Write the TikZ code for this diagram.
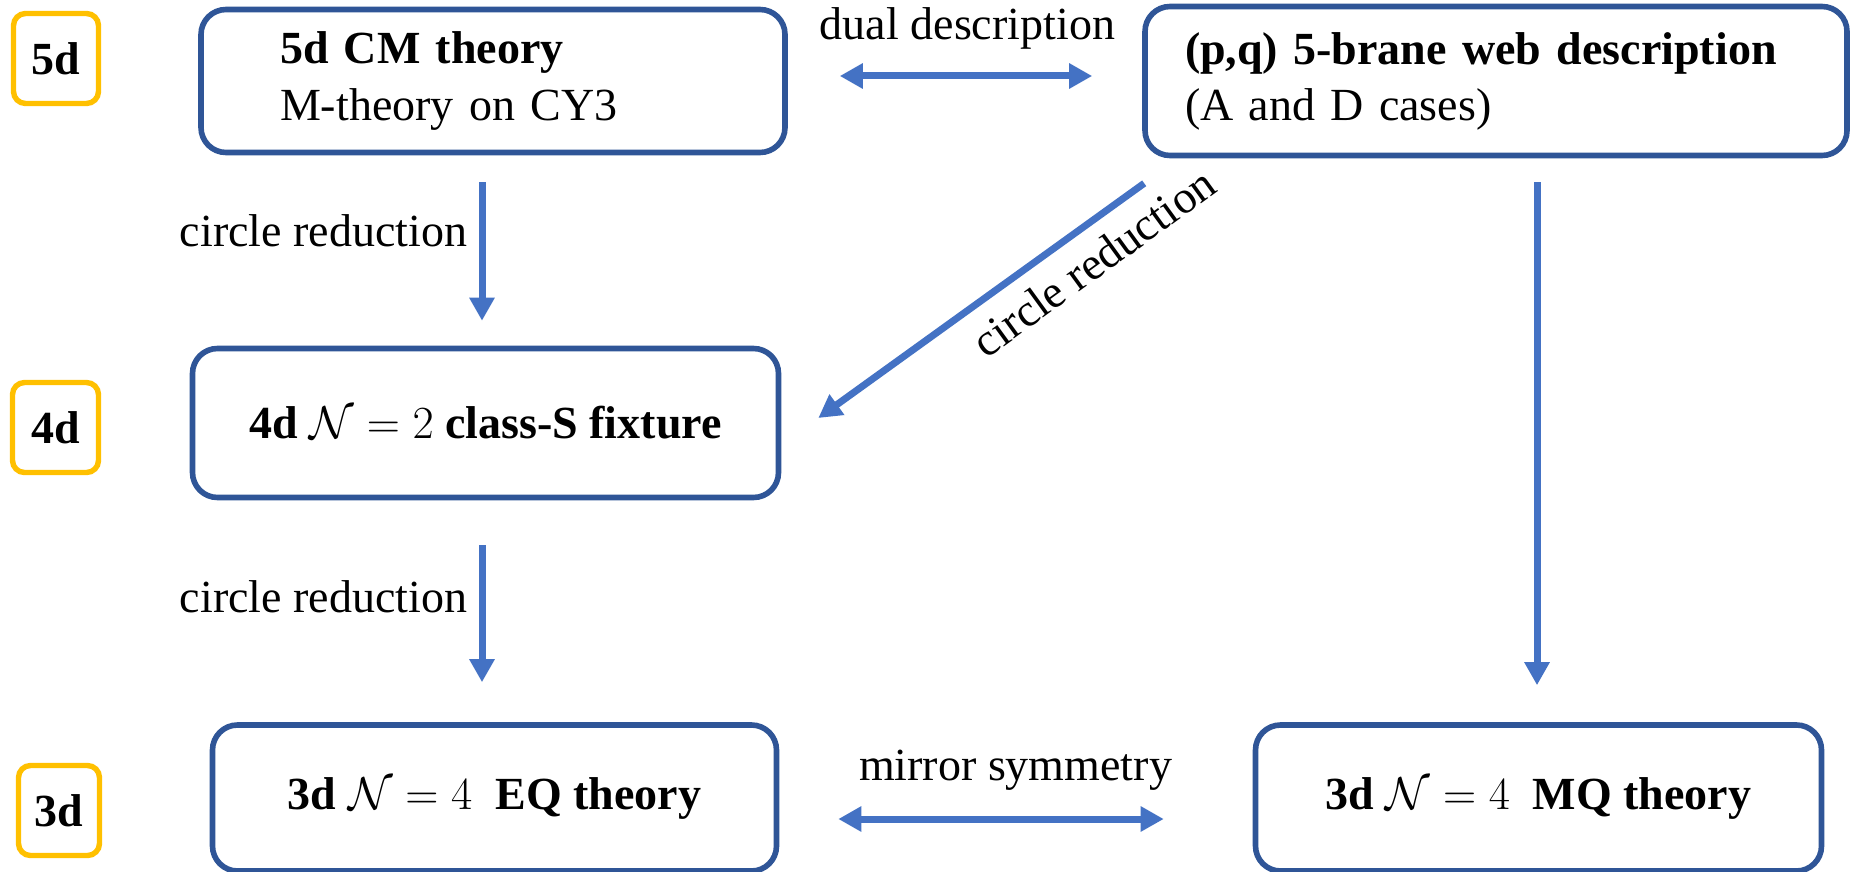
\documentclass[tikz,border=0pt]{standalone}
\usepackage{fix-cm}
\usepackage{fontspec}
\setmainfont{Liberation Serif}
\usetikzlibrary{arrows.meta}
\definecolor{boxblue}{HTML}{2F5597}
\definecolor{arrowblue}{HTML}{4472C4}
\definecolor{dimyellow}{HTML}{FFC000}
\begin{document}
\begin{tikzpicture}[x=0.5pt,y=-0.5pt,
  every node/.style={font=\fontsize{23}{27}\selectfont},
  dimbox/.style={draw=dimyellow, line width=2.7pt, rounded corners=6pt,
    inner sep=0pt, minimum height=45pt, font=\fontsize{23}{27}\selectfont\bfseries},
  thbox/.style={draw=boxblue, line width=2.8pt, rounded corners=12.5pt, inner sep=0pt},
  arr/.style={draw=arrowblue, line width=3.5pt, -{Triangle[width=12pt,length=11.5pt]}},
  dbl/.style={draw=arrowblue, line width=3.5pt, {Triangle[width=12pt,length=11.5pt]}-{Triangle[width=12pt,length=11.5pt]}},
  lbl/.style={inner sep=0pt, anchor=base}]
\fill[white] (0,0) rectangle (1851,872);
\useasboundingbox (0,0) rectangle (1851,872);

% dimension labels
\node[dimbox, minimum width=42.5pt] (d5) at (56,58.5) {5d};
\node[dimbox, minimum width=43pt] (d4) at (55.5,427.5) {4d};
\node[dimbox, minimum width=40.5pt] (d3) at (59,810.5) {3d};

% theory boxes
\node[thbox, minimum height=71.5pt, text width=213pt, inner xsep=39.5pt, align=left] (cm) at (493,81)
  {{\bfseries 5d CM theory}\\[1.5pt]M-theory on CY3};
\node[thbox, minimum height=74.5pt, text width=311pt, inner xsep=20pt, align=left] (pq) at (1496,81)
  {{\bfseries (p,q) 5-brane web description}\\[1pt](A and D cases)};
\node[thbox, minimum width=293pt, minimum height=74.5pt] (fix) at (485.5,423)
  {\bfseries 4d $\mathcal{N}=2$ class-S fixture};
\node[thbox, minimum width=282pt, minimum height=73pt] (eq) at (494.5,798)
  {\bfseries 3d $\mathcal{N}=4$\ \ EQ theory};
\node[thbox, minimum width=283pt, minimum height=73pt] (mq) at (1538.5,798)
  {\bfseries 3d $\mathcal{N}=4$\ \ MQ theory};

% connectors
\draw[dbl] ([xshift=26pt,yshift=2.5pt]cm.east) -- ([xshift=-25pt,yshift=2.5pt]pq.west);
\draw[arr] ([xshift=-5.5pt,yshift=-13.5pt]cm.south) -- ([xshift=-1.75pt,yshift=12.5pt]fix.north);
\draw[arr] ([xshift=1pt,yshift=-12.5pt]pq.south west) -- ([xshift=18.5pt,yshift=2.5pt]fix.east);
\draw[arr] ([xshift=-1.75pt,yshift=-22.5pt]fix.south) -- ([xshift=-6.25pt,yshift=20pt]eq.north);
\draw[arr] ([xshift=20.5pt,yshift=-12pt]pq.south) -- ([xshift=-0.75pt,yshift=18.5pt]mq.north);
\draw[dbl] ([xshift=29.5pt,yshift=-10.5pt]eq.east) -- ([xshift=-44.5pt,yshift=-10.5pt]mq.west);

% connector labels
\node[lbl] (ldual) at (967.5,40) {dual description};
\node[lbl] (lcr1) at (323.5,246) {circle reduction};
\node[lbl] (lcr2) at (323.5,612) {circle reduction};
\node[lbl, rotate=36] (lcr3) at (1103,275) {circle reduction};
\node[lbl] (lmir) at (1015.5,780) {mirror symmetry};
\end{tikzpicture}
\end{document}
